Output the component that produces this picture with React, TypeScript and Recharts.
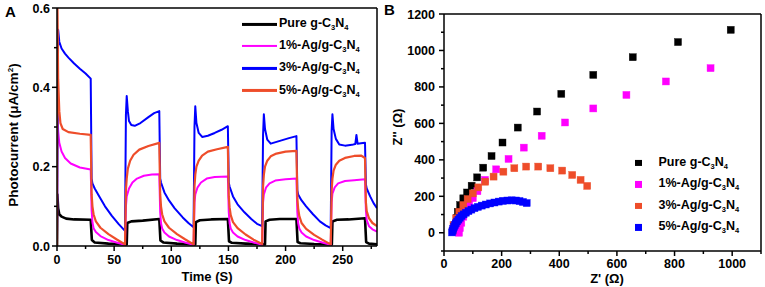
import React from 'react';
import { LineChart, Line, XAxis, YAxis, ScatterChart, Scatter } from 'recharts';

// ---------- Panel A data (time in s, photocurrent in µA/cm²) ----------
const photoPure: number[][] = [
  [0, 0], [0.3, 0.13], [1, 0.095], [2, 0.08], [4, 0.074], [8, 0.069], [15, 0.067], [29.5, 0.066],
  [30.5, 0.015], [33, 0.009], [45, 0.006], [61, 0.004], [61.5, 0.058], [65, 0.062], [75, 0.064], [89.5, 0.068],
  [90.5, 0.014], [93, 0.009], [105, 0.006], [121, 0.004], [121.5, 0.06], [125, 0.065], [135, 0.067], [149.5, 0.068],
  [150.5, 0.012], [153, 0.008], [165, 0.006], [182, 0.004], [182.5, 0.062], [186, 0.066], [195, 0.068], [209.5, 0.068],
  [210.5, 0.01], [213, 0.007], [225, 0.005], [240.5, 0.004], [241, 0.062], [245, 0.066], [255, 0.067], [269.5, 0.07],
  [270.5, 0.01], [273, 0.006], [280, 0.004],
];
const photo1: number[][] = [
  [0, 0], [0.3, 0.335], [1, 0.29], [2, 0.26], [4, 0.238], [7, 0.222], [12, 0.208], [20, 0.198], [29.5, 0.193],
  [30.3, 0.09], [31, 0.06], [32, 0.045], [34, 0.035], [38, 0.025], [45, 0.015], [52, 0.009], [59.5, 0.003],
  [60.3, 0.1], [61, 0.125], [63, 0.145], [66, 0.16], [70, 0.17], [76, 0.177], [83, 0.18], [89.5, 0.181],
  [90.3, 0.085], [91, 0.058], [92, 0.044], [94, 0.034], [98, 0.024], [105, 0.015], [112, 0.009], [119.5, 0.003],
  [120.3, 0.11], [121, 0.13], [123, 0.148], [126, 0.16], [131, 0.17], [138, 0.174], [149.5, 0.175],
  [150.3, 0.085], [151, 0.058], [152, 0.044], [154, 0.034], [158, 0.024], [165, 0.015], [172, 0.009], [179.5, 0.003],
  [180.3, 0.11], [181, 0.13], [183, 0.148], [186, 0.158], [191, 0.165], [200, 0.168], [209.5, 0.17],
  [210.3, 0.085], [211, 0.058], [212, 0.044], [214, 0.034], [218, 0.024], [225, 0.015], [232, 0.009], [239.5, 0.003],
  [240.3, 0.11], [241, 0.132], [243, 0.148], [246, 0.158], [252, 0.164], [260, 0.166], [269.5, 0.168],
  [270.3, 0.09], [271, 0.065], [273, 0.05], [276, 0.042], [280, 0.036],
];
const photo3: number[][] = [
  [0, 0], [1, 0.545], [2, 0.515], [4, 0.498], [7, 0.485], [10, 0.475], [15, 0.46], [20, 0.447], [25, 0.435], [29.5, 0.422],
  [30.3, 0.17], [31, 0.158], [33, 0.145], [37, 0.125], [42, 0.1], [48, 0.076], [54, 0.055], [59.5, 0.038],
  [60.3, 0.33], [61, 0.378], [62, 0.34], [63, 0.315], [65, 0.305], [68, 0.303], [73, 0.31], [80, 0.325], [85, 0.335], [89.5, 0.34],
  [90.3, 0.17], [91, 0.16], [94, 0.135], [98, 0.115], [103, 0.095], [110, 0.072], [115, 0.058], [119.5, 0.047],
  [120.3, 0.3], [121, 0.352], [122, 0.31], [124, 0.285], [127, 0.275], [132, 0.278], [138, 0.285], [144, 0.293], [149.5, 0.302],
  [150.3, 0.16], [151, 0.15], [154, 0.125], [158, 0.105], [164, 0.085], [170, 0.068], [175, 0.056], [179.5, 0.05],
  [180.3, 0.28], [181, 0.332], [182, 0.295], [184, 0.268], [187, 0.258], [195, 0.265], [203, 0.272], [209.5, 0.277],
  [210.3, 0.14], [211, 0.13], [214, 0.115], [218, 0.1], [224, 0.08], [230, 0.062], [235, 0.052], [239.5, 0.045],
  [240.3, 0.29], [241, 0.332], [242, 0.295], [244, 0.27], [247, 0.256], [252, 0.253], [258, 0.255], [261, 0.257],
  [262, 0.28], [263, 0.258], [266, 0.259], [269.5, 0.26],
  [270.3, 0.155], [271, 0.145], [274, 0.125], [277, 0.108], [280, 0.095],
];
const photo5: number[][] = [
  [0, 0], [0.4, 0.6], [1, 0.42], [2, 0.34], [3, 0.31], [5, 0.295], [10, 0.287], [20, 0.283], [29.5, 0.28],
  [30.3, 0.13], [31, 0.1], [32, 0.08], [34, 0.062], [38, 0.046], [45, 0.03], [52, 0.017], [59.5, 0.004],
  [60.3, 0.14], [61, 0.17], [62, 0.195], [64, 0.215], [67, 0.23], [72, 0.243], [80, 0.252], [89.5, 0.26],
  [90.3, 0.13], [91, 0.1], [92, 0.08], [94, 0.062], [98, 0.046], [105, 0.03], [112, 0.017], [119.5, 0.004],
  [120.3, 0.15], [121, 0.18], [122, 0.2], [124, 0.215], [127, 0.228], [132, 0.238], [140, 0.244], [149.5, 0.25],
  [150.3, 0.125], [151, 0.098], [152, 0.078], [154, 0.06], [158, 0.045], [165, 0.029], [172, 0.016], [179.5, 0.005],
  [180.3, 0.15], [181, 0.18], [182, 0.2], [184, 0.215], [187, 0.226], [192, 0.233], [200, 0.238], [209.5, 0.24],
  [210.3, 0.12], [211, 0.095], [212, 0.076], [214, 0.058], [218, 0.043], [225, 0.028], [232, 0.016], [239.5, 0.004],
  [240.3, 0.14], [241, 0.17], [242, 0.19], [244, 0.205], [247, 0.215], [252, 0.222], [260, 0.227], [266, 0.228], [269.5, 0.222],
  [270.3, 0.11], [271, 0.088], [273, 0.07], [276, 0.058], [280, 0.05],
];

// ---------- Panel B data (Z' , Z'' in Ω) ----------
const eisPure: number[][] = [
  [38, 20], [41, 50], [44, 80], [48, 115], [56, 152], [67, 189], [80, 221], [96, 258], [115, 304], [136, 357],
  [165, 421], [203, 495], [256, 577], [323, 665], [407, 762], [518, 866], [655, 963], [812, 1046], [995, 1113],
];
const eis1: number[][] = [
  [52, 0], [55, 25], [60, 55], [67, 88], [76, 120], [87, 155], [100, 190], [116, 228], [142, 290], [181, 348],
  [224, 405], [277, 467], [339, 532], [420, 605], [518, 682], [633, 756], [770, 830], [925, 903],
];
const eis3: number[][] = [
  [30, 12], [33, 42], [42, 79], [53, 115], [67, 152], [82, 185], [100, 216], [119, 249], [143, 280], [172, 308],
  [206, 335], [244, 354], [285, 363], [327, 363], [369, 354], [410, 341], [445, 317], [474, 290], [497, 257],
];
const eis5: number[][] = [
  [28, 2], [30, 12], [32, 22], [35, 32], [38, 42], [41, 52], [45, 62], [50, 72], [55, 82], [61, 92], [68, 101],
  [76, 110], [85, 119], [95, 127], [106, 135], [118, 142], [131, 149], [145, 155], [160, 161], [175, 166],
  [190, 171], [205, 175], [220, 177], [235, 178], [250, 177], [262, 174], [274, 169], [287, 163],
];

// ---------- ticks ----------
const ticksAX = [0, 25, 50, 75, 100, 125, 150, 175, 200, 225, 250, 275];
const ticksAY = [0, 0.1, 0.2, 0.3, 0.4, 0.5, 0.6];
const ticksBX = [0, 100, 200, 300, 400, 500, 600, 700, 800, 900, 1000, 1100];
const ticksBY = [-100, 0, 100, 200, 300, 400, 500, 600, 700, 800, 900, 1000, 1100, 1200];

const BLACK = '#000000';
const MAGENTA = '#ff00ff';
const BLUE = '#0000ff';
const ORANGE = '#ee4d2a';

const FONT = '"Liberation Sans", Arial, sans-serif';

const toTV = (a: number[][]) => a.map(([t, v]) => ({ t, v }));
const toXY = (a: number[][]) => a.map(([x, y]) => ({ x, y }));

const isMajor = (v: number, step: number) => Math.abs(v / step - Math.round(v / step)) < 1e-6;

// with tickSize=0 & tickMargin=0 the tick anchor sits on the axis line
const makeBottomTick = (step: number, fmt: (v: number) => string, off: number) => (p: any) => {
  const { x, y, payload } = p;
  const major = isMajor(payload.value, step);
  return (
    <g>
      <line x1={x} x2={x} y1={y} y2={y + (major ? 5 : 3)} stroke="#000" strokeWidth={1.5} />
      {major && (
        <text x={x} y={y + off} dy="0.71em" textAnchor="middle" fontSize={12.5} fontWeight="bold" fontFamily={FONT} fill="#000">
          {fmt(payload.value)}
        </text>
      )}
    </g>
  );
};
const makeLeftTick = (step: number, fmt: (v: number) => string, gap: number) => (p: any) => {
  const { x, y, payload } = p;
  const major = isMajor(payload.value, step);
  return (
    <g>
      <line x1={x} x2={x - (major ? 5 : 3)} y1={y} y2={y} stroke="#000" strokeWidth={1.5} />
      {major && (
        <text x={x - gap} y={y} dy="0.36em" textAnchor="end" fontSize={12.5} fontWeight="bold" fontFamily={FONT} fill="#000">
          {fmt(payload.value)}
        </text>
      )}
    </g>
  );
};

const Formula = ({ prefix }: { prefix: string }) => (
  <span>
    {prefix}g-C<sub style={{ fontSize: '0.6em', verticalAlign: '-0.35em' }}>3</sub>N
    <sub style={{ fontSize: '0.6em', verticalAlign: '-0.35em' }}>4</sub>
  </span>
);

const seriesA = [
  { name: 'Pure ', data: photoPure, color: BLACK, width: 2.6 },
  { name: '1%-Ag/', data: photo1, color: MAGENTA, width: 2 },
  { name: '3%-Ag/', data: photo3, color: BLUE, width: 2 },
  { name: '5%-Ag/', data: photo5, color: ORANGE, width: 2.2 },
];
const seriesB = [
  { name: 'Pure ', data: eisPure, color: BLACK },
  { name: '1%-Ag/', data: eis1, color: MAGENTA },
  { name: '3%-Ag/', data: eis3, color: ORANGE },
  { name: '5%-Ag/', data: eis5, color: BLUE },
];

const Square = (color: string) => (p: any) => {
  const { cx, cy } = p;
  if (cx == null || cy == null) return <g />;
  return <rect x={cx - 3.5} y={cy - 3.5} width={7} height={7} fill={color} stroke={color} strokeOpacity={0.8} strokeWidth={0.5} />;
};

const textStyle: React.CSSProperties = {
  position: 'absolute',
  fontFamily: FONT,
  fontWeight: 'bold',
  color: '#000',
  whiteSpace: 'nowrap',
  lineHeight: 1,
};

const axisLine = { stroke: '#000', strokeWidth: 1.5 };

export default function App() {
  return (
    <div style={{ position: 'absolute', left: 0, top: 0, width: 765, height: 287, background: '#fff', overflow: 'hidden', fontFamily: FONT }}>
      {/* Panel A : plot box x 57..377, y 8..246 */}
      <div style={{ position: 'absolute', left: 0, top: 0 }}>
        <LineChart width={400} height={287} margin={{ top: 7, left: 56, right: 22, bottom: 40 }}>
          <XAxis
            xAxisId="main"
            dataKey="t"
            type="number"
            domain={[0, 280]}
            ticks={ticksAX}
            allowDataOverflow
            height={1}
            tickSize={0}
            tickMargin={0}
            tickLine={false}
            axisLine={axisLine}
            tick={makeBottomTick(50, (v) => String(v), 9.5)}
            interval={0}
          />
          <XAxis xAxisId="top" orientation="top" type="number" domain={[0, 280]} height={1} tick={false} tickLine={false} axisLine={axisLine} />
          <YAxis
            yAxisId="main"
            type="number"
            domain={[0, 0.6]}
            ticks={ticksAY}
            allowDataOverflow
            width={1}
            tickSize={0}
            tickMargin={0}
            tickLine={false}
            axisLine={axisLine}
            tick={makeLeftTick(0.2, (v) => v.toFixed(1), 7)}
            interval={0}
          />
          <YAxis yAxisId="right" orientation="right" type="number" domain={[0, 0.6]} width={1} tick={false} tickLine={false} axisLine={axisLine} />
          {seriesA.map((s) => (
            <Line
              key={s.name}
              xAxisId="main"
              yAxisId="main"
              data={toTV(s.data)}
              dataKey="v"
              type="linear"
              stroke={s.color}
              strokeWidth={s.width}
              dot={false}
              isAnimationActive={false}
              strokeLinejoin="round"
            />
          ))}
        </LineChart>
      </div>

      {/* Panel B : plot box x 444..761, y 14..251 */}
      <div style={{ position: 'absolute', left: 385, top: 0 }}>
        <ScatterChart width={380} height={287} margin={{ top: 13, left: 58, right: 3, bottom: 35 }}>
          <XAxis
            xAxisId="main"
            dataKey="x"
            type="number"
            domain={[0, 1100]}
            ticks={ticksBX}
            height={1}
            tickSize={0}
            tickMargin={0}
            tickLine={false}
            axisLine={axisLine}
            tick={makeBottomTick(200, (v) => String(v), 8.5)}
            interval={0}
          />
          <XAxis xAxisId="top" orientation="top" type="number" domain={[0, 1100]} height={1} tick={false} tickLine={false} axisLine={axisLine} />
          <YAxis
            yAxisId="main"
            dataKey="y"
            type="number"
            domain={[-100, 1200]}
            ticks={ticksBY}
            width={1}
            tickSize={0}
            tickMargin={0}
            tickLine={false}
            axisLine={axisLine}
            tick={makeLeftTick(200, (v) => String(v), 9)}
            interval={0}
          />
          <YAxis yAxisId="right" orientation="right" type="number" domain={[-100, 1200]} width={1} tick={false} tickLine={false} axisLine={axisLine} />
          {seriesB.map((s) => (
            <Scatter
              key={s.name}
              xAxisId="main"
              yAxisId="main"
              data={toXY(s.data)}
              fill={s.color}
              shape={Square(s.color)}
              isAnimationActive={false}
            />
          ))}
        </ScatterChart>
      </div>

      {/* Panel labels */}
      <div style={{ ...textStyle, left: 5, top: 4, fontSize: 15 }}>A</div>
      <div style={{ ...textStyle, left: 384, top: 2, fontSize: 15 }}>B</div>

      {/* Axis titles */}
      <div style={{ ...textStyle, left: 207, top: 276, fontSize: 13, transform: 'translate(-50%,-50%)' }}>Time (S)</div>
      <div style={{ ...textStyle, left: 607, top: 278, fontSize: 13, transform: 'translate(-50%,-50%)' }}>Z' (Ω)</div>
      <div style={{ ...textStyle, left: 14, top: 135, fontSize: 13.5, transform: 'translate(-50%,-50%) rotate(-90deg)' }}>
        Photocurrent (μA/cm<sup style={{ fontSize: '0.6em', verticalAlign: '0.6em' }}>2</sup>)
      </div>
      <div style={{ ...textStyle, left: 397, top: 127, fontSize: 13, transform: 'translate(-50%,-50%) rotate(-90deg)' }}>Z'' (Ω)</div>

      {/* Legend A */}
      {seriesA.map((s, i) => (
        <div key={s.name} style={{ ...textStyle, left: 242, top: 24 + i * 22.2, fontSize: 12.5, transform: 'translateY(-50%)', display: 'flex', alignItems: 'center' }}>
          <span style={{ display: 'inline-block', width: 35, height: s.width + 0.4, background: s.color, marginRight: 2 }} />
          <Formula prefix={s.name} />
        </div>
      ))}

      {/* Legend B */}
      {seriesB.map((s, i) => (
        <div key={s.name} style={{ ...textStyle, left: 635, top: 163 + i * 21.4, fontSize: 12.5, transform: 'translateY(-50%)', display: 'flex', alignItems: 'center' }}>
          <span style={{ display: 'inline-block', width: 6.5, height: 6.5, background: s.color, marginRight: 17 }} />
          <Formula prefix={s.name} />
        </div>
      ))}
    </div>
  );
}
